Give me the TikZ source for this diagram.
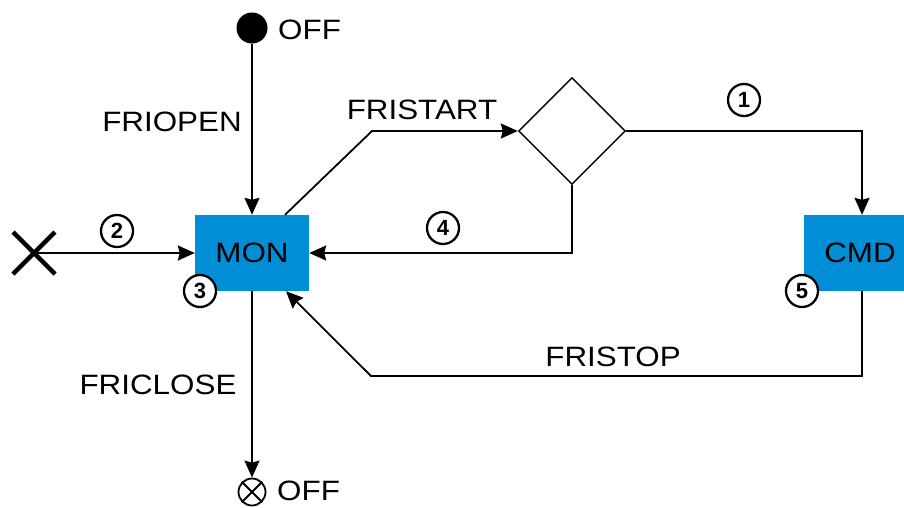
\documentclass[tikz,border=0pt]{standalone}
\usepackage{fontspec}
\setmainfont{Liberation Sans}
\usetikzlibrary{shapes.geometric,arrows.meta,calc}
\definecolor{boxblue}{RGB}{0,143,215}
\newcommand{\widetxt}[1]{\scalebox{1.12}[1]{#1}}
\begin{document}
\begin{tikzpicture}[x=1pt,y=-1pt,
  conn/.style={line width=1.8pt, -{Stealth[length=17pt,width=15pt,inset=2pt]}},
  lbl/.style={inner sep=0pt, font=\fontsize{28}{30}\selectfont},
  statebox/.style={fill=boxblue, minimum width=#1, minimum height=76pt, inner sep=0pt, font=\fontsize{28}{30}\selectfont},
  num/.style={circle, draw, fill=white, line width=2.3pt, minimum size=32pt, inner sep=0pt, font=\bfseries\fontsize{22}{22}\selectfont}
]
\useasboundingbox (0,0) rectangle (904,507);
% states
\node[statebox=114pt] (MON) at (252,253) {\widetxt{MON}};
\node[statebox=100pt] (CMD) at (854,253) {\hspace{12pt}\widetxt{CMD}};
\node[diamond, draw, line width=1.4pt, minimum width=107pt, minimum height=107pt, inner sep=0pt] (D) at (572,131) {};
% start / end
\node[circle, fill=black, minimum size=31pt, inner sep=0pt] (off1) at (252,28) {};
\node[lbl, anchor=west] (off1t) at (278,30) {\widetxt{OFF}};
\node[circle, draw, line width=1.8pt, minimum size=27pt, inner sep=0pt] (off2) at (252,492) {};
\draw[line width=1.8pt] (off2.north west) -- (off2.south east) (off2.north east) -- (off2.south west);
\node[lbl, anchor=west] (off2t) at (277,491) {\widetxt{OFF}};
\coordinate (X) at (34,253);
\draw[line width=4.5pt] ($(X)+(-21,-21)$) -- ($(X)+(21,21)$) ($(X)+(-21,21)$) -- ($(X)+(21,-21)$);
% connectors
\draw[conn] (off1.south) -- (MON.north);
\draw[conn] (X) -- (MON.west);
\draw[conn] (MON.south) -- (off2.north);
\coordinate (fs) at (372,131);
\draw[conn] ([xshift=33pt]MON.north) -- (fs) -- (D.west);
\draw[conn] (D.east) -| ([xshift=8pt]CMD.north);
\draw[conn] (D.south) |- (MON.east);
\coordinate (fp) at (371,376);
\draw[conn] ([xshift=8pt]CMD.south) |- (fp) -- ([xshift=34pt]MON.south);
% labels
\node[lbl] (l1) at (172,122) {\widetxt{FRIOPEN}};
\node[lbl] (l2) at (422,110) {\widetxt{FRISTART}};
\node[lbl] (l3) at (613,357) {\widetxt{FRISTOP}};
\node[lbl] (l4) at (158,385) {\widetxt{FRICLOSE}};
% numbers
\node[num] (n1) at (744,100) {1};
\node[num] (n2) at (117,231) {2};
\node[num] (n3) at (200,291) {3};
\node[num] (n4) at (443,228) {4};
\node[num] (n5) at (802,291) {5};
\end{tikzpicture}
\end{document}
